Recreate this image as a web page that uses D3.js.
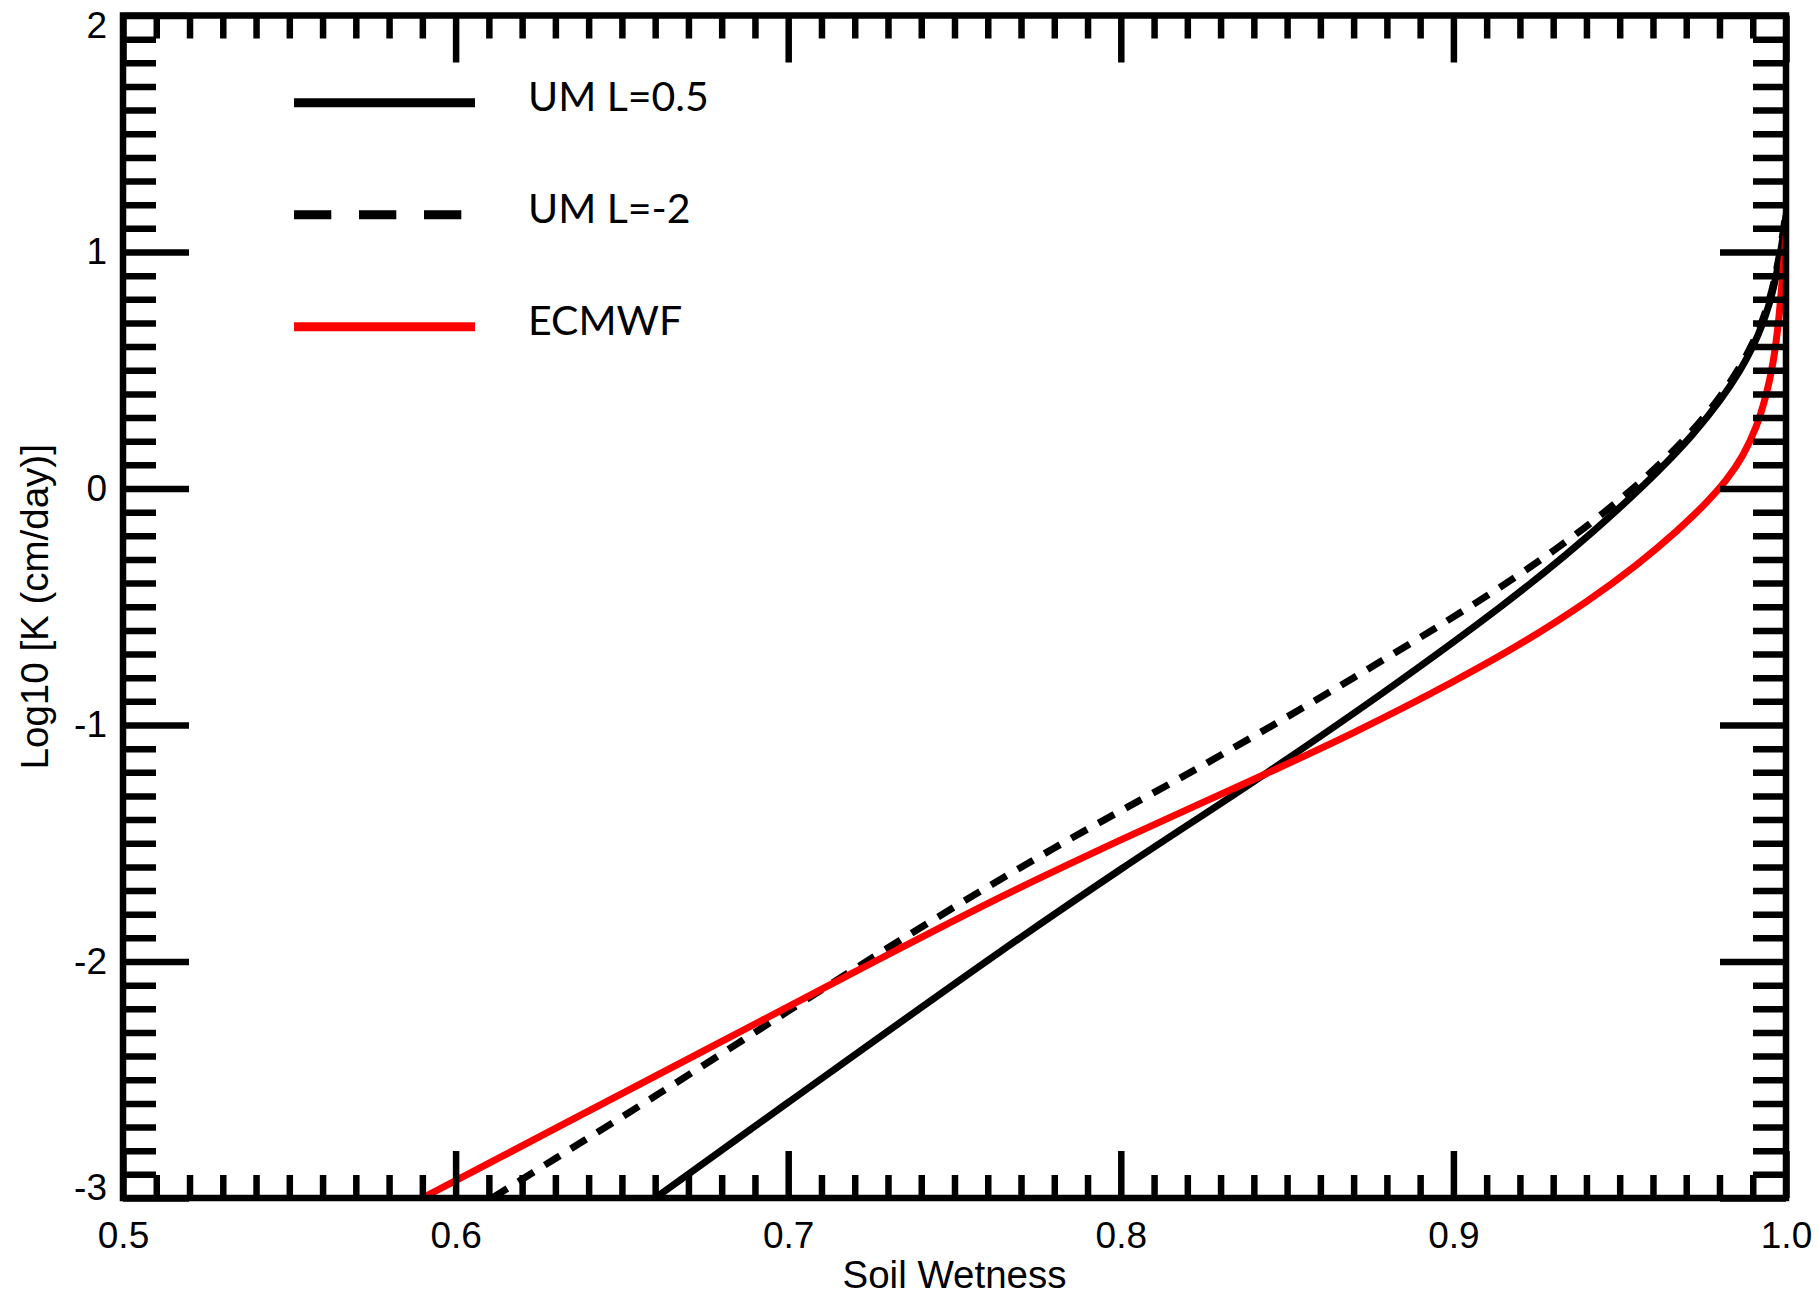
<!DOCTYPE html>
<meta charset="utf-8">
<head>
  <style>
    body { margin: 0; background: #fff; }
    .tick text { font-family: "Liberation Sans", Arial, sans-serif; font-size: 37px; fill: #000; }
    .tick line { stroke: #000; stroke-width: 6.5px; }
    .title { font-family: "Liberation Sans", Arial, sans-serif; font-size: 38.5px; fill: #000; }
    .legend text { font-family: Lato, "Open Sans", sans-serif; font-size: 41px; fill: #000; }
  </style>
  <script src="https://d3js.org/d3.v7.min.js"></script>
</head>
<body>
  <svg width="1819" height="1296"></svg>
  <script>
    // soil wetness / log10 K values
    var umHalfX = [0.660, 0.700, 0.764, 0.800, 0.844, 0.880, 0.914, 0.934, 0.950, 0.962, 0.972, 0.980, 0.986, 0.990, 0.993, 0.995, 0.9965, 0.998, 0.999, 1.0];
    var umHalfY = [-3.00, -2.596, -1.956, -1.610, -1.201, -0.852, -0.502, -0.278, -0.081, 0.080, 0.230, 0.370, 0.496, 0.600, 0.699, 0.783, 0.866, 0.971, 1.056, 1.155];

    var umNeg2X = [0.611, 0.630, 0.660, 0.700, 0.740, 0.780, 0.826, 0.870, 0.913, 0.934, 0.950, 0.962, 0.972, 0.980, 0.986, 0.990, 0.993, 0.995, 0.9965, 0.998, 0.999, 1.0];
    var umNeg2Y = [-3.00, -2.833, -2.569, -2.210, -1.855, -1.520, -1.160, -0.800, -0.427, -0.223, -0.047, 0.103, 0.248, 0.386, 0.512, 0.616, 0.715, 0.799, 0.882, 0.987, 1.072, 1.172];

    var ecmwfX = [0.590, 0.630, 0.675, 0.720, 0.764, 0.800, 0.844, 0.870, 0.900, 0.920, 0.940, 0.955, 0.967, 0.976, 0.982, 0.987, 0.991, 0.994, 0.996, 0.9975, 0.9988, 1.0];
    var ecmwfY = [-3.00, -2.706, -2.375, -2.044, -1.727, -1.486, -1.204, -1.032, -0.816, -0.658, -0.478, -0.323, -0.181, -0.060, 0.036, 0.141, 0.261, 0.396, 0.526, 0.676, 0.871, 1.069];

    var legendNames = ["UM L=0.5", "UM L=-2", "ECMWF"];
    var legendColors = ["#000", "#000", "#ff0000"];
    var legendDash = [null, "37.3 27.7", null];

    var xMajor = [0.5, 0.6, 0.7, 0.8, 0.9, 1.0];
    var xLabels = ["0.5", "0.6", "0.7", "0.8", "0.9", "1.0"];
    var yMajor = [2, 1, 0, -1, -2, -3];
    var yLabels = ["2", "1", "0", "-1", "-2", "-3"];

    var svg = d3.select("svg"),
      x0 = 123, x1 = 1786, y0 = 15.5, y1 = 1198;

    var x = d3.scaleLinear().domain([0.5, 1.0]).range([x0, x1]);
    var y = d3.scaleLinear().domain([-3, 2]).range([y1, y0]);

    var xMinor = d3.range(51).map(function(i) { return 0.5 + i * 0.01; })
      .filter(function(v, i) { return i % 10 !== 0; });
    var yMinor = d3.range(51).map(function(i) { return -3 + i * 0.1; })
      .filter(function(v, i) { return i % 10 !== 0; });

    svg.append("clipPath").attr("id", "plot")
      .append("rect").attr("x", x0).attr("y", y0).attr("width", x1 - x0).attr("height", y1 - y0);

    // curves
    var series = [
      { xs: umHalfX, ys: umHalfY, color: legendColors[0], dash: legendDash[0] },
      { xs: umNeg2X, ys: umNeg2Y, color: legendColors[1], dash: "18 13" },
      { xs: ecmwfX, ys: ecmwfY, color: legendColors[2], dash: null }
    ];

    var line = d3.line()
      .x(function(d) { return x(d[0]); })
      .y(function(d) { return y(d[1]); })
      .curve(d3.curveCatmullRom.alpha(0.5));

    series.forEach(function(s) {
      svg.append("path")
        .datum(d3.zip(s.xs, s.ys))
        .attr("clip-path", "url(#plot)")
        .attr("d", line)
        .attr("fill", "none")
        .attr("stroke", s.color)
        .attr("stroke-width", 7)
        .attr("stroke-dasharray", s.dash);
    });

    // axes - minor and major ticks on all four sides, pointing inward
    function axisGroup(axis, tx, ty) {
      var g = svg.append("g").attr("transform", "translate(" + tx + "," + ty + ")").call(axis);
      g.select(".domain").remove();
      return g;
    }

    axisGroup(d3.axisBottom(x).tickValues(xMinor).tickSize(-23).tickFormat(""), 0, y1);
    axisGroup(d3.axisBottom(x).tickValues(xMajor).tickSize(-47).tickPadding(23.5)
      .tickFormat(function(d, i) { return xLabels[i]; }), 0, y1);
    axisGroup(d3.axisTop(x).tickValues(xMinor).tickSize(-23).tickFormat(""), 0, y0);
    axisGroup(d3.axisTop(x).tickValues(xMajor).tickSize(-47).tickFormat(""), 0, y0);

    axisGroup(d3.axisLeft(y).tickValues(yMinor).tickSize(-33).tickFormat(""), x0, 0);
    var left = axisGroup(d3.axisLeft(y).tickValues(yMajor).tickSize(-66).tickPadding(16)
      .tickFormat(function(d, i) { return yLabels[i]; }), x0, 0);
    axisGroup(d3.axisRight(y).tickValues(yMinor).tickSize(-33).tickFormat(""), x1, 0);
    axisGroup(d3.axisRight(y).tickValues(yMajor).tickSize(-66).tickFormat(""), x1, 0);

    // end labels sit a little inside the frame
    left.selectAll(".tick text")
      .attr("y", function(d) { return d === 2 ? 10 : (d === -3 ? -10 : 0); });

    svg.append("rect")
      .attr("x", x0).attr("y", y0)
      .attr("width", x1 - x0).attr("height", y1 - y0)
      .attr("fill", "none").attr("stroke", "#000").attr("stroke-width", 6.5);

    svg.append("text").attr("class", "title")
      .attr("x", (x0 + x1) / 2).attr("y", 1288)
      .attr("text-anchor", "middle")
      .text("Soil Wetness");

    svg.append("text").attr("class", "title")
      .attr("transform", "translate(48," + (y0 + y1) / 2 + ") rotate(-90)")
      .attr("text-anchor", "middle")
      .text("Log10 [K (cm/day)]");

    // legend
    var legend = svg.append("g").attr("class", "legend");
    legendNames.forEach(function(name, i) {
      var ly = 102.7 + i * 112;
      legend.append("line")
        .attr("x1", 294).attr("x2", i === 1 ? 462 : 475)
        .attr("y1", ly).attr("y2", ly)
        .attr("stroke", legendColors[i])
        .attr("stroke-width", 9)
        .attr("stroke-dasharray", legendDash[i]);
      legend.append("text")
        .attr("x", 528).attr("y", ly + 8.5)
        .text(name);
    });
  </script>
</body>
